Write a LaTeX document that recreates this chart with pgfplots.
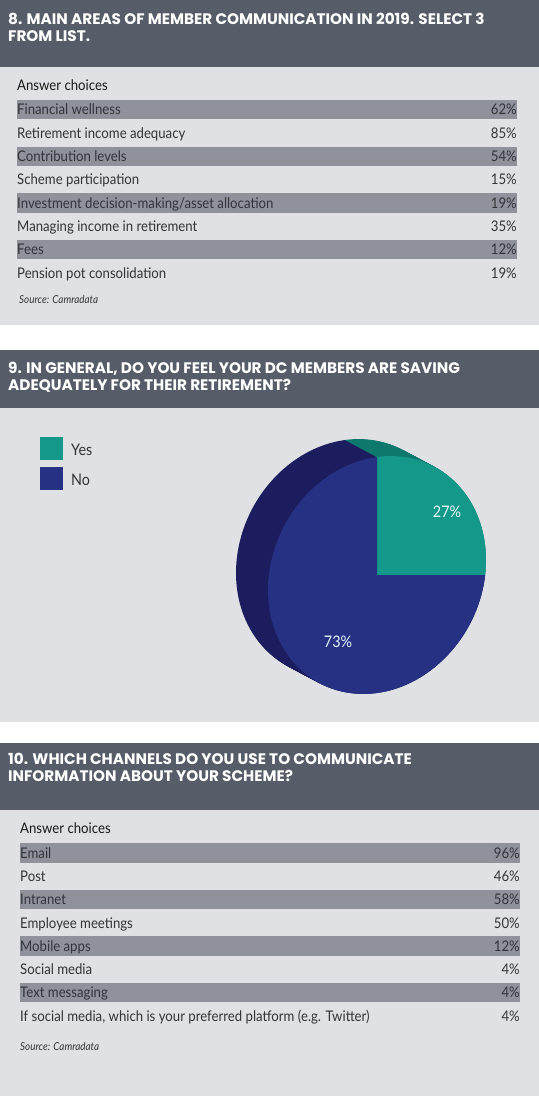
\documentclass[border=0pt]{standalone}
\usepackage{pgfplots}
\pgfplotsset{compat=1.18}
\usepackage{pgfplotstable}
\usepackage{fontspec}
\setmainfont{Lato}
\newfontfamily\bodyfont{Lato}[FakeStretch=0.9]
\newfontfamily\headfont{Poppins}

\definecolor{headbg}{RGB}{86,93,104}
\definecolor{bodybg}{RGB}{223,225,228}
\definecolor{stripe}{RGB}{143,146,155}
\definecolor{txt}{RGB}{50,52,58}
\definecolor{yescol}{RGB}{19,152,138}
\definecolor{nocol}{RGB}{38,49,131}
\definecolor{yesside}{RGB}{14,120,108}
\definecolor{noside}{RGB}{27,29,94}

\pgfplotstableread[col sep=semicolon]{
label;value
Financial wellness;62
Retirement income adequacy;85
Contribution levels;54
Scheme participation;15
Investment decision-making/asset allocation;19
Managing income in retirement;35
Fees;12
Pension pot consolidation;19
}\areas

\pgfplotstableread[col sep=semicolon]{
label;value
Email;96
Post;46
Intranet;58
Employee meetings;50
Mobile apps;12
Social media;4
Text messaging;4
If social media, which is your preferred platform (e.g. Twitter);4
}\channels

\pgfplotstableread{
answer value
Yes 27
No 73
}\pie

\newcommand\bodysize{\fontsize{14.7}{17}\selectfont}
\newcommand\headstyle{\headfont\bfseries\fontsize{15.3}{18}\selectfont}

\pgfplotsset{
  rowlabels/.style={only marks, mark=*, mark size=0pt, mark options={draw=none,fill=none},
    point meta=explicit symbolic, nodes near coords={\pgfplotspointmeta},
    nodes near coords style={anchor=base west, inner sep=0pt, font=\bodyfont\bodysize, text=txt}},
  rowvalues/.style={only marks, mark=*, mark size=0pt, mark options={draw=none,fill=none},
    point meta=explicit symbolic, nodes near coords={\pgfplotspointmeta\%},
    nodes near coords style={anchor=base east, inner sep=0pt, font=\bodyfont\bodysize, text=txt}},
}

\begin{document}
\begin{tikzpicture}
\pgfplotstablegetelem{0}{value}\of\pie
\pgfmathsetmacro\yesend{90-3.6*\pgfplotsretval}
\pgfmathsetmacro\shear{-118/109*tan(\yesend)}
\begin{axis}[at={(0,0)}, anchor=south west, width=539bp, height=1098bp, scale only axis,
  xmin=0, xmax=539, ymin=0, ymax=1098, y dir=reverse, hide axis, clip=false]
% backgrounds
\fill[white] (axis cs:0,0) rectangle (axis cs:539,1098);
\fill[headbg] (axis cs:0,0) rectangle (axis cs:539,67);
\fill[bodybg] (axis cs:0,67) rectangle (axis cs:539,325);
\fill[headbg] (axis cs:0,350) rectangle (axis cs:539,408);
\fill[bodybg] (axis cs:0,408) rectangle (axis cs:539,722);
\fill[headbg] (axis cs:0,743) rectangle (axis cs:539,810);
\fill[bodybg] (axis cs:0,810) rectangle (axis cs:539,1096);
% headers
\node[anchor=base west, inner sep=0pt, text=white, font=\headstyle] at (axis cs:8,24.3) {8. MAIN AREAS OF MEMBER COMMUNICATION IN 2019. SELECT 3};
\node[anchor=base west, inner sep=0pt, text=white, font=\headstyle] at (axis cs:8,41.7) {FROM LIST.};
\node[anchor=base west, inner sep=0pt, text=white, font=\headstyle] at (axis cs:8,373.3) {9. IN GENERAL, DO YOU FEEL YOUR DC MEMBERS ARE SAVING};
\node[anchor=base west, inner sep=0pt, text=white, font=\headstyle] at (axis cs:8,390.7) {ADEQUATELY FOR THEIR RETIREMENT?};
\node[anchor=base west, inner sep=0pt, text=white, font=\headstyle] at (axis cs:8,764.3) {10. WHICH CHANNELS DO YOU USE TO COMMUNICATE};
\node[anchor=base west, inner sep=0pt, text=white, font=\headstyle] at (axis cs:8,781.7) {INFORMATION ABOUT YOUR SCHEME?};
% table 1
\node[anchor=base west, inner sep=0pt, text=black!90, font=\bodyfont\bodysize] at (axis cs:17,91) {Answer choices};
\pgfplotsinvokeforeach{0,2,4,6}{
  \fill[stripe] (axis cs:17,{100+23.33*#1}) rectangle (axis cs:517,{119.5+23.33*#1});
}
\addplot[rowlabels] table[x expr=17, y expr={115+23.33*\coordindex}, meta=label]{\areas};
\addplot[rowvalues] table[x expr=517, y expr={115+23.33*\coordindex}, meta=value]{\areas};
\node[anchor=base west, inner sep=0pt, text=txt, font=\bodyfont\itshape\fontsize{11}{13}\selectfont] at (axis cs:19,303) {Source: Camradata};
% table 3
\node[anchor=base west, inner sep=0pt, text=black!90, font=\bodyfont\bodysize] at (axis cs:20,833) {Answer choices};
\pgfplotsinvokeforeach{0,2,4,6}{
  \fill[stripe] (axis cs:20,{843+23.33*#1}) rectangle (axis cs:520,{862.5+23.33*#1});
}
\addplot[rowlabels] table[x expr=20, y expr={858+23.33*\coordindex}, meta=label]{\channels};
\addplot[rowvalues] table[x expr=520, y expr={858+23.33*\coordindex}, meta=value]{\channels};
\node[anchor=base west, inner sep=0pt, text=txt, font=\bodyfont\itshape\fontsize{11}{13}\selectfont] at (axis cs:20,1050) {Source: Camradata};
% pie: side (swept), then front face; the disk is sheared by the view
\pgfplotsinvokeforeach{0,...,32}{
  \fill[yesside, shift={(axis cs:{345+#1},{558+0.53125*#1})}, cm={1,\shear,0,1,(0,0)}] (0,0) -- (0bp,118bp) arc[start angle=90, end angle=\yesend, x radius=109bp, y radius=118bp] -- cycle;
  \fill[noside, shift={(axis cs:{345+#1},{558+0.53125*#1})}, cm={1,\shear,0,1,(0,0)}] (0,0) -- ({109bp*cos(\yesend)},{118bp*sin(\yesend)}) arc[start angle=\yesend, end angle=-270, x radius=109bp, y radius=118bp] -- cycle;
}
\fill[yescol, shift={(axis cs:377,575)}, cm={1,\shear,0,1,(0,0)}] (0,0) -- (0bp,118bp) arc[start angle=90, end angle=\yesend, x radius=109bp, y radius=118bp] -- cycle;
\fill[nocol, shift={(axis cs:377,575)}, cm={1,\shear,0,1,(0,0)}] (0,0) -- ({109bp*cos(\yesend)},{118bp*sin(\yesend)}) arc[start angle=\yesend, end angle=-270, x radius=109bp, y radius=118bp] -- cycle;
\node[anchor=base, inner sep=0pt, text=white!90!cyan, font=\bodyfont\fontsize{16}{18}\selectfont] at (axis cs:447,517) {27\%};
\node[anchor=base, inner sep=0pt, text=white!90!cyan, font=\bodyfont\fontsize{16}{18}\selectfont] at (axis cs:338,647.5) {73\%};
% legend
\fill[yescol] (axis cs:40,437) rectangle (axis cs:63,460);
\fill[nocol] (axis cs:40,467) rectangle (axis cs:63,490);
\node[anchor=base west, inner sep=0pt, text=txt, font=\bodyfont\fontsize{16}{18}\selectfont] at (axis cs:71,455) {Yes};
\node[anchor=base west, inner sep=0pt, text=txt, font=\bodyfont\fontsize{16}{18}\selectfont] at (axis cs:71,485) {No};
\end{axis}
\end{tikzpicture}
\end{document}
